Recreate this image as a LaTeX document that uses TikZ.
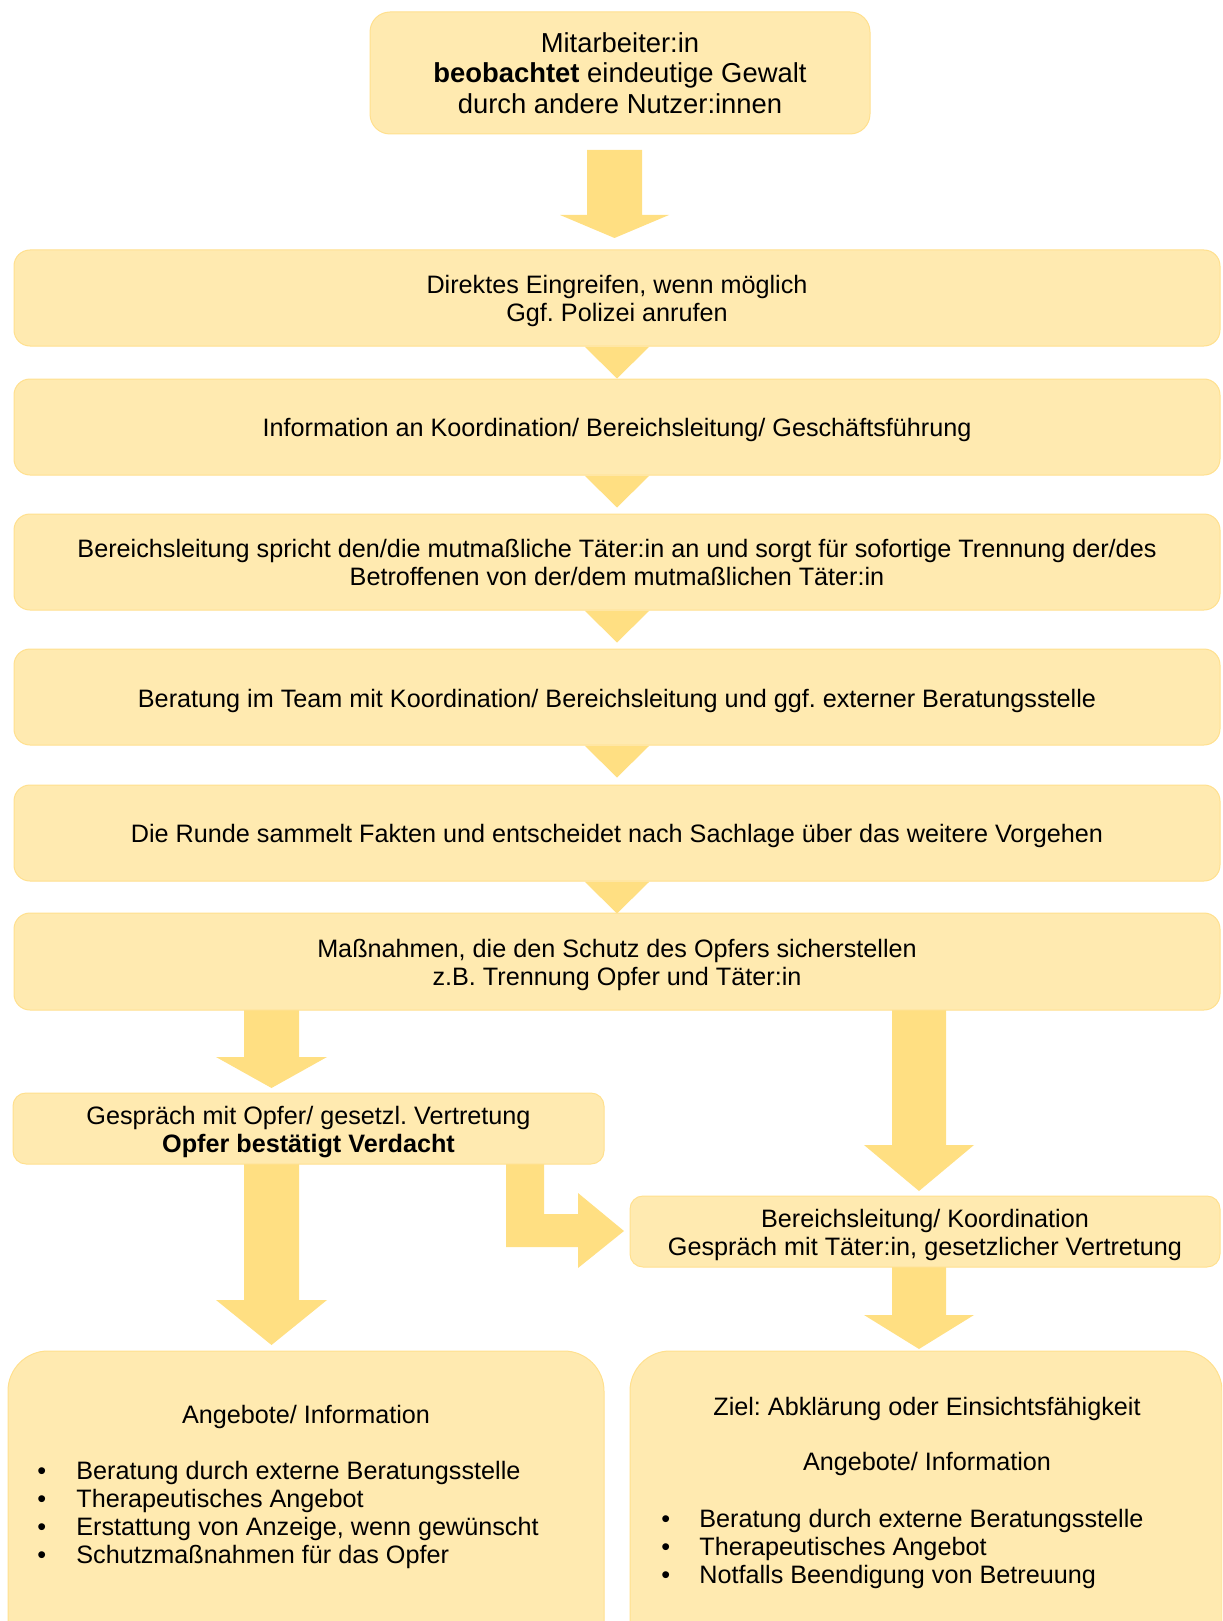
\documentclass[tikz,border=0pt]{standalone}
\usepackage{fontspec}
\setmainfont{Liberation Sans}
\frenchspacing
\usetikzlibrary{calc}
\pgfdeclarelayer{bg}
\pgfsetlayers{bg,main}

\definecolor{boxfill}{HTML}{FFEAB0}
\definecolor{boxline}{HTML}{FFE08E}
\definecolor{arrowfill}{HTML}{FFDF82}

% block arrow pointing down: from, to, shaft half width, head half width, head length
\newcommand\downblock[5]{%
  \fill[arrowfill] let \p1=(#1), \p2=(#2) in
    (\x1-#3,\y1) -- (\x1+#3,\y1) -- (\x1+#3,\y2+#5) -- (\x1+#4,\y2+#5)
    -- (\x1,\y2) -- (\x1-#4,\y2+#5) -- (\x1-#3,\y2+#5) -- cycle;}
% small triangle below a box, pointing to the next one
\newcommand\steptri[1]{%
  \fill[arrowfill] let \p1=(#1.south) in
    (\x1-16.25pt,\y1) -- (\x1+16.25pt,\y1) -- (\x1,\y1-16pt) -- cycle;}

\tikzset{
  every node/.style={font=\fontsize{12.6pt}{14pt}\selectfont},
  box/.style={draw=boxline, line width=0.5pt, fill=boxfill,
    rounded corners=8pt, inner sep=0pt},
  boxtext/.style={align=center, inner sep=0pt},
  listtext/.style={anchor=base west, inner sep=0pt, align=left},
  headtext/.style={anchor=base, inner sep=0pt},
}

\begin{document}
\begin{tikzpicture}[x=0.5pt,y=-0.5pt]
\clip (0,0) rectangle (1222,1621);

% boxes of the main sequence
\node[box, rounded corners=10pt, minimum width=250pt, minimum height=61pt] (b1) at (620,73) {};
\node[box, minimum width=603pt, minimum height=48pt] (b2) at (617,298) {};
\node[box, minimum width=603pt, minimum height=48pt] (b3) at (617,427) {};
\node[box, minimum width=603pt, minimum height=48pt] (b4) at (617,562) {};
\node[box, minimum width=603pt, minimum height=48pt] (b5) at (617,697) {};
\node[box, minimum width=603pt, minimum height=48pt] (b6) at (617,833) {};
\node[box, minimum width=603pt, minimum height=48.5pt] (b7) at (617,961.5) {};

% the two branches
\node[box, rounded corners=6.5pt, minimum width=295.5pt, minimum height=35.5pt] (b8) at (308.5,1128.5) {};
\node[box, rounded corners=6.5pt, minimum width=295pt, minimum height=35.5pt] (b9) at (925,1231.5) {};

% offer boxes at the bottom
\node[box, rounded corners=20pt, minimum width=298pt, minimum height=155pt] (b10) at (306,1506) {};
\node[box, rounded corners=20pt, minimum width=296pt, minimum height=155pt] (b11) at (926,1506) {};

% box texts
\node[boxtext, font=\fontsize{13.7pt}{15.3pt}\selectfont] (t1) at (b1.center)
  {Mitarbeiter:in\\\textbf{beobachtet} eindeutige Gewalt\\durch andere Nutzer:innen};
\node[boxtext] (t2) at ([yshift=-1.4pt]b2.center)
  {Direktes Eingreifen, wenn möglich\\Ggf. Polizei anrufen};
\node[boxtext] (t3) at ([yshift=-1.5pt]b3.center)
  {Information an Koordination/ Bereichsleitung/ Geschäftsführung};
\node[boxtext] (t4) at ([yshift=-0.3pt]b4.center)
  {Bereichsleitung spricht den/die mutmaßliche Täter:in an und sorgt für sofortige Trennung der/des\\Betroffenen von der/dem mutmaßlichen Täter:in};
\node[boxtext] (t5) at ([yshift=-1.8pt]b5.center)
  {Beratung im Team mit Koordination/ Bereichsleitung und ggf. externer Beratungsstelle};
\node[boxtext] (t6) at ([yshift=-1.5pt]b6.center)
  {Die Runde sammelt Fakten und entscheidet nach Sachlage über das weitere Vorgehen};
\node[boxtext] (t7) at ([yshift=-1.8pt]b7.center)
  {Maßnahmen, die den Schutz des Opfers sicherstellen\\z.B. Trennung Opfer und Täter:in};
\node[boxtext] (t8) at ([yshift=-1.8pt]b8.center)
  {Gespräch mit Opfer/ gesetzl. Vertretung\\\textbf{Opfer bestätigt Verdacht}};
\node[boxtext] (t9) at ([yshift=-1.8pt]b9.center)
  {Bereichsleitung/ Koordination\\Gespräch mit Täter:in, gesetzlicher Vertretung};

\node[headtext] (h10) at (306,1423) {Angebote/ Information};
\node[listtext] (l10) at (37,1479) {\begin{tabular}[t]{@{}p{19.5pt}@{}l@{}}
  •&Beratung durch externe Beratungsstelle\\
  •&Therapeutisches Angebot\\
  •&Erstattung von Anzeige, wenn gewünscht\\
  •&Schutzmaßnahmen für das Opfer\end{tabular}};

\node[headtext] (z11) at (927,1415) {Ziel: Abklärung oder Einsichtsfähigkeit};
\node[headtext] (h11) at (927,1470) {Angebote/ Information};
\node[listtext] (l11) at (661,1527) {\begin{tabular}[t]{@{}p{19pt}@{}l@{}}
  •&Beratung durch externe Beratungsstelle\\
  •&Therapeutisches Angebot\\
  •&Notfalls Beendigung von Betreuung\end{tabular}};

% arrow end points
\coordinate (a1s) at (614.5,150);   \coordinate (a1e) at (614.5,238);
\coordinate (a2s) at (271.5,1010);  \coordinate (a2e) at (271.5,1088);
\coordinate (a3s) at (919,1010);    \coordinate (a3e) at (919,1191);
\coordinate (a4s) at (271.5,1164);  \coordinate (a4e) at (271.5,1345);
\coordinate (a5s) at (919,1267);    \coordinate (a5e) at (919,1349);
\coordinate (a6s) at (525,1164);    \coordinate (a6e) at (624,1231);

\begin{pgfonlayer}{bg}
  \downblock{a1s}{a1e}{13.75pt}{27.25pt}{11.5pt}
  \steptri{b2}
  \steptri{b3}
  \steptri{b4}
  \steptri{b5}
  \steptri{b6}
  \downblock{a2s}{a2e}{13.75pt}{27.75pt}{15.5pt}
  \downblock{a3s}{a3e}{13.5pt}{27.5pt}{23pt}
  \downblock{a4s}{a4e}{13.75pt}{27.75pt}{22.5pt}
  \downblock{a5s}{a5e}{13.5pt}{27.5pt}{17pt}
  % bent arrow from the victim talk to the talk with the offender
  \fill[arrowfill] let \p1=(a6s), \p2=(a6e) in
    (\x1-9.5pt,\y1) -- (\x1+9.5pt,\y1) -- (\x1+9.5pt,\y2+8.5pt)
    -- (\x2-23pt,\y2+8.5pt) -- (\x2-23pt,\y2+19pt) -- (\x2,\y2)
    -- (\x2-23pt,\y2-18.5pt) -- (\x2-23pt,\y2-8pt) -- (\x1-9.5pt,\y2-8pt) -- cycle;
\end{pgfonlayer}
\end{tikzpicture}
\end{document}
